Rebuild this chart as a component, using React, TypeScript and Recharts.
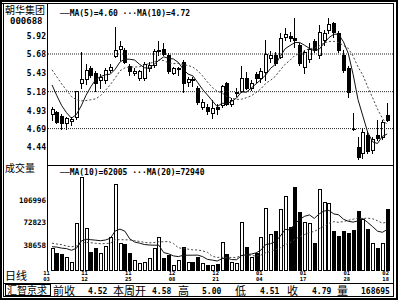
import React from 'react';
import { Bar, ComposedChart, Line, ReferenceLine, XAxis, YAxis } from 'recharts';

// daily candles, index 0 = 11/03, index 69 = 02/18
const opens = [4.88, 4.91, 4.86, 4.76, 4.79, 4.84, 5.30, 5.35, 5.49, 5.43,
  5.33, 5.34, 5.47, 5.65, 5.74, 5.73, 5.52, 5.43, 5.36, 5.36,
  5.50, 5.53, 5.72, 5.74, 5.67, 5.43, 5.48, 5.57, 5.31, 5.35,
  5.23, 4.98, 4.98, 4.90, 4.98, 5.00, 5.29, 5.02, 5.17, 5.19,
  5.36, 5.23, 5.41, 5.36, 5.44, 5.63, 5.67, 5.64, 5.90, 5.92,
  5.89, 5.80, 5.51, 5.62, 5.85, 5.67, 5.87, 6.00, 6.09, 5.96,
  5.67, 5.49, 4.69, 4.45, 4.37, 4.60, 4.40, 4.61, 4.58, 4.87];
const highs = [4.98, 4.93, 4.88, 4.85, 4.85, 5.19, 5.71, 5.55, 5.52, 5.45,
  5.42, 5.49, 5.55, 6.04, 5.85, 5.76, 5.55, 5.49, 5.47, 5.57,
  5.57, 5.74, 5.85, 5.82, 5.69, 5.51, 5.51, 5.60, 5.38, 5.38,
  5.25, 5.08, 5.01, 5.07, 5.01, 5.27, 5.31, 5.09, 5.23, 5.52,
  5.44, 5.33, 5.44, 5.50, 5.87, 5.72, 5.70, 5.96, 6.03, 5.97,
  6.16, 5.83, 5.73, 5.82, 5.88, 6.07, 6.00, 6.16, 6.10, 5.99,
  5.73, 5.52, 4.90, 4.58, 4.70, 4.65, 4.58, 4.80, 4.80, 5.03];
const lows = [4.81, 4.76, 4.68, 4.69, 4.74, 4.82, 5.23, 5.28, 5.38, 5.19,
  5.23, 5.29, 5.44, 5.64, 5.60, 5.56, 5.40, 5.40, 5.34, 5.34,
  5.46, 5.51, 5.67, 5.67, 5.43, 5.41, 5.40, 5.18, 5.26, 5.25,
  5.02, 4.95, 4.89, 4.83, 4.89, 4.98, 5.00, 4.99, 5.12, 5.18,
  5.22, 5.20, 5.31, 5.31, 5.34, 5.58, 5.53, 5.63, 5.87, 5.85,
  5.77, 5.53, 5.43, 5.58, 5.70, 5.63, 5.80, 5.96, 5.90, 5.71,
  5.44, 5.11, 4.67, 4.28, 4.30, 4.37, 4.37, 4.54, 4.55, 4.79];
const closes = [4.95, 4.78, 4.76, 4.83, 4.82, 5.19, 5.35, 5.47, 5.40, 5.30,
  5.38, 5.47, 5.51, 5.73, 5.78, 5.57, 5.46, 5.46, 5.45, 5.55,
  5.53, 5.72, 5.73, 5.68, 5.45, 5.49, 5.49, 5.29, 5.35, 5.33,
  5.04, 5.04, 4.92, 4.96, 4.95, 5.26, 5.02, 5.07, 5.18, 5.36,
  5.23, 5.29, 5.36, 5.45, 5.68, 5.67, 5.56, 5.89, 5.95, 5.89,
  5.87, 5.56, 5.71, 5.74, 5.73, 5.97, 5.96, 6.08, 5.97, 5.73,
  5.47, 5.18, 4.68, 4.31, 4.64, 4.39, 4.55, 4.57, 4.78, 4.80];
const volumes = [34500, 27000, 25500, 21000, 13500, 72000, 141000, 64500, 28500, 34500,
  27000, 37500, 51000, 130500, 42000, 40500, 27000, 16500, 12000, 13500,
  19500, 34500, 51000, 19500, 24000, 9000, 16500, 36000, 13500, 13500,
  21000, 12000, 9000, 9000, 10500, 43500, 25500, 13500, 12000, 73500,
  36000, 21000, 27000, 51000, 94500, 55500, 60000, 93000, 112500, 66000,
  126000, 88500, 73500, 72000, 42000, 123000, 103500, 102000, 60000, 52500,
  60000, 57000, 61500, 90000, 78000, 63000, 42000, 34500, 42000, 93000];

// sessions before the window, only so the averages start where the picture's do
const prevCloses = [5.72, 5.70, 5.66, 5.64, 5.62, 5.50, 5.42, 5.30, 5.18];
const prevVolumes = [52000, 45000, 61000, 38000, 47000, 55000, 40000, 43000, 50000, 39000,
  33000, 41000, 29000, 37000, 44000, 31000, 38000, 35000, 42000];

const priceTicks = [4.44, 4.69, 4.93, 5.18, 5.43, 5.68, 5.92];
const priceGrid = [4.69, 5.18, 5.68];
const volTicks = [38658, 72823, 106996];
const dateIdx = [0, 7, 16, 25, 34, 43, 52, 61, 69];
const dateMonth = ['11', '11', '11', '12', '12', '01', '01', '01', '02'];
const dateDay = ['03', '12', '25', '08', '21', '04', '17', '28', '18'];

const MONO = '"DejaVu Sans Mono", monospace';
const CJK = '"Noto Sans CJK SC", sans-serif';

function movingAvg(prev: number[], vals: number[], n: number) {
  const all = prev.concat(vals);
  return vals.map((_, i) => {
    const end = prev.length + i + 1;
    return all.slice(end - n, end).reduce((a, b) => a + b, 0) / n;
  });
}

const ma5 = movingAvg(prevCloses, closes, 5);
const ma10 = movingAvg(prevCloses, closes, 10);
const vma10 = movingAvg(prevVolumes, volumes, 10);
const vma20 = movingAvg(prevVolumes, volumes, 20);

const rows = closes.map((c, i) => ({
  i, o: opens[i], h: highs[i], l: lows[i], c, v: volumes[i],
  ma5: ma5[i], ma10: ma10[i], vma10: vma10[i], vma20: vma20[i],
}));

function Candle(props: any) {
  const { x, y, width, height, payload } = props;
  if (!payload) return null;
  const { o, h, l, c } = payload;
  const col = Math.floor(x + width / 2);
  const k = height / (h - l);
  const at = (v: number) => Math.round(y + (h - v) * k);
  const yh = at(h);
  const yl = at(l);
  const top = at(Math.max(o, c));
  const bot = at(Math.min(o, c));
  const wx = col + 0.5;
  if (c > o) {
    return (
      <g shapeRendering="crispEdges">
        <line x1={wx} x2={wx} y1={yh} y2={top} stroke="#000" />
        <line x1={wx} x2={wx} y1={bot + 1} y2={yl + 1} stroke="#000" />
        <rect x={col - 0.5} y={top + 0.5} width={3} height={Math.max(bot - top, 1)} fill="#fff" stroke="#000" />
      </g>
    );
  }
  return (
    <g shapeRendering="crispEdges">
      <line x1={wx} x2={wx} y1={yh} y2={yl + 1} stroke="#000" />
      <rect x={col - 1} y={top} width={4} height={Math.max(bot - top + 1, 1)} fill="#000" />
    </g>
  );
}

function VolBar(props: any) {
  const { x, y, width, height, payload } = props;
  if (!payload) return null;
  const col = Math.floor(x + width / 2);
  const top = Math.round(y);
  const base = Math.round(y + height);
  if (payload.c > payload.o) {
    return (
      <rect x={col - 0.5} y={top + 0.5} width={3} height={Math.max(base - top - 1, 1)}
        fill="#fff" stroke="#000" shapeRendering="crispEdges" />
    );
  }
  return <rect x={col - 1} y={top} width={4} height={base - top} fill="#000" shapeRendering="crispEdges" />;
}

const PriceTick = (p: any) => (
  <text x={46} y={p.y} dy={3} textAnchor="end" fontFamily={MONO} fontWeight="bold" fontSize={8} fill="#000">
    {Number(p.payload.value).toFixed(2)}
  </text>
);

const VolTick = (p: any) => (
  <text x={46} y={p.y} dy={3} textAnchor="end" fontFamily={MONO} fontWeight="bold" fontSize={7.5} fill="#000">
    {p.payload.value}
  </text>
);

// two-line date label: month over day
const DateTick = (p: any) => {
  const k = dateIdx.indexOf(Number(p.payload.value));
  if (k < 0) return <g />;
  const cx = k === 0 ? p.x - 5.5 : p.x - 1.5;
  return (
    <g fontFamily={MONO} fontWeight="bold" fontSize={5.5} fill="#000">
      <text x={cx} y={110} textAnchor="middle">{dateMonth[k]}</text>
      <text x={cx} y={116.2} textAnchor="middle">{dateDay[k]}</text>
    </g>
  );
};

function T({ x, y, size, font, bold, children }: any) {
  return (
    <div style={{
      position: 'absolute', left: x, top: y, fontSize: size, lineHeight: 1,
      fontFamily: font, fontWeight: bold ? 'bold' : 'normal', whiteSpace: 'nowrap', color: '#000',
    }}>
      {children}
    </div>
  );
}

function HLine({ x, y, w }: any) {
  return <div style={{ position: 'absolute', left: x, top: y, width: w, height: 1, background: '#000' }} />;
}

function VLine({ x, y, h }: any) {
  return <div style={{ position: 'absolute', left: x, top: y, width: 1, height: h, background: '#000' }} />;
}

const xPad = { left: 1.6, right: 3.4 };

export default function App() {
  return (
    <div style={{ position: 'absolute', left: 0, top: 0, width: 400, height: 300, background: '#fff', overflow: 'hidden' }}>
      <div style={{ position: 'absolute', left: 0, top: 0 }}>
        <ComposedChart width={400} height={170} data={rows} margin={{ top: 5, right: 7, bottom: 5, left: 0 }}>
          <XAxis dataKey="i" type="category" hide padding={xPad} />
          <YAxis
            domain={[4.207, 6.33]}
            ticks={priceTicks}
            interval={0}
            width={48}
            axisLine={false}
            tickLine={false}
            tick={PriceTick}
            allowDataOverflow
          />
          {priceGrid.map((g) => (
            <ReferenceLine key={g} y={g} stroke="#222" strokeDasharray="1 1" />
          ))}
          <Bar dataKey={(d: any) => [d.l, d.h]} shape={(p: any) => <Candle {...p} />} isAnimationActive={false} />
          <Line dataKey="ma10" stroke="#444" strokeDasharray="2 2" strokeWidth={1} dot={false} activeDot={false} isAnimationActive={false} />
          <Line dataKey="ma5" stroke="#111" strokeWidth={1} dot={false} activeDot={false} isAnimationActive={false} />
        </ComposedChart>
      </div>

      <div style={{ position: 'absolute', left: 0, top: 165 }}>
        <ComposedChart width={400} height={135} data={rows} margin={{ top: 0, right: 7, bottom: 0, left: 0 }}>
          <XAxis
            dataKey="i"
            type="category"
            height={29}
            padding={xPad}
            axisLine={false}
            tickLine={false}
            interval={0}
            tick={DateTick}
          />
          <YAxis
            domain={[0, 159000]}
            ticks={volTicks}
            interval={0}
            width={48}
            axisLine={false}
            tickLine={false}
            tick={VolTick}
            allowDataOverflow
          />
          <Bar dataKey="v" shape={(p: any) => <VolBar {...p} />} isAnimationActive={false} />
          <Line dataKey="vma20" stroke="#444" strokeDasharray="2 2" strokeWidth={1} dot={false} activeDot={false} isAnimationActive={false} />
          <Line dataKey="vma10" stroke="#111" strokeWidth={1} dot={false} activeDot={false} isAnimationActive={false} />
        </ComposedChart>
      </div>

      {/* frame */}
      <div style={{ position: 'absolute', left: 0, top: 0, width: 398, height: 300, border: '2px solid #000', boxSizing: 'border-box' }} />
      <HLine x={2} y={3} w={392} />
      <VLine x={3} y={3} h={294} />
      <VLine x={393} y={3} h={294} />
      <HLine x={3} y={296} w={391} />
      <VLine x={47} y={3} h={268} />
      <HLine x={47} y={165} w={347} />
      <HLine x={3} y={283} w={391} />

      {/* legends */}
      <T x={60} y={10} size={8} font={MONO} bold>──MA(5)=4.60 ···MA(10)=4.72</T>
      <T x={60} y={169} size={8} font={MONO} bold>──MA(10)=62005 ···MA(20)=72940</T>

      {/* left panel */}
      <T x={5} y={5} size={10} font={CJK}>朝华集团</T>
      <T x={10} y={17} size={9} font={MONO} bold>000688</T>
      <T x={5} y={163} size={10} font={CJK}>成交量</T>
      <T x={5} y={270} size={11} font={CJK}>日线</T>

      {/* status bar */}
      <div style={{ position: 'absolute', left: 5, top: 284, width: 46, height: 12, border: '1px solid #000', boxSizing: 'border-box' }} />
      <T x={7} y={285} size={10} font={CJK}>汇智京求</T>
      <T x={53} y={285} size={11} font={CJK}>前收</T>
      <T x={88} y={287.5} size={8} font={MONO} bold>4.52</T>
      <T x={113} y={285} size={11} font={CJK}>本周开</T>
      <T x={152} y={287.5} size={8} font={MONO} bold>4.58</T>
      <T x={178} y={285} size={11} font={CJK}>高</T>
      <T x={202} y={287.5} size={8} font={MONO} bold>5.00</T>
      <T x={235} y={285} size={11} font={CJK}>低</T>
      <T x={260} y={287.5} size={8} font={MONO} bold>4.51</T>
      <T x={287} y={285} size={11} font={CJK}>收</T>
      <T x={312} y={287.5} size={8} font={MONO} bold>4.79</T>
      <T x={337} y={285} size={11} font={CJK}>量</T>
      <T x={361} y={287.5} size={8} font={MONO} bold>168695</T>
    </div>
  );
}
